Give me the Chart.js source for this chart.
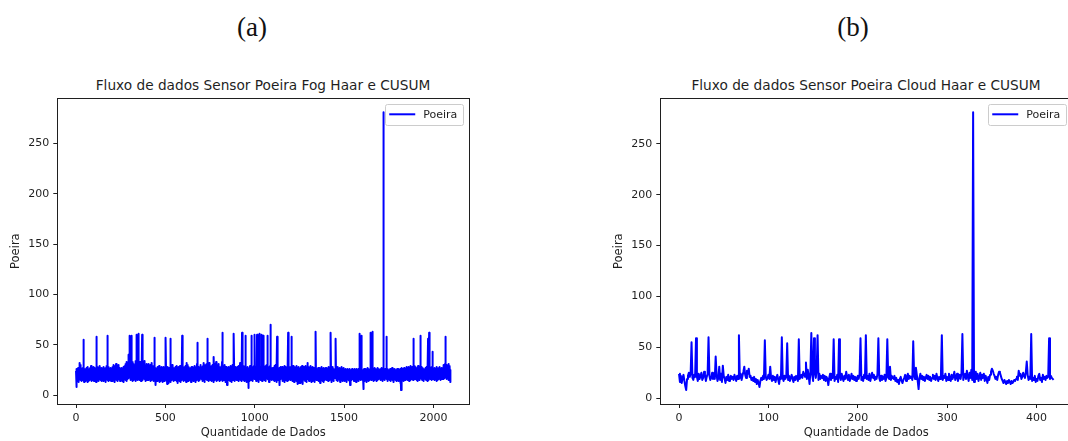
<!DOCTYPE html>
<html>
<head>
<meta charset="utf-8">
<title>Fluxo de dados Sensor Poeira</title>
<script src="https://cdn.jsdelivr.net/npm/chart.js@4.4.0/dist/chart.umd.min.js"></script>
<style>
  body {
    margin: 0;
    width: 1068px;
    height: 441px;
    overflow: hidden;
    background: #fff;
    position: relative;
    font-family: 'DejaVu Sans', sans-serif;
    color: #1f1f1f;
  }
  .painel { position: absolute; top: 0; width: 480px; height: 441px; }
  #painelA { left: 0; }
  #painelB { left: 603px; }
  .sub {
    position: absolute;
    top: 12px;
    width: 80px;
    text-align: center;
    font-family: 'Liberation Serif', 'DejaVu Serif', serif;
    font-size: 27px;
    line-height: 30px;
    color: #111;
  }
  #painelA .sub { left: 212px; }
  #painelB .sub { left: 210px; }
  .titulo {
    position: absolute;
    top: 77px;
    left: 57px;
    width: 412px;
    text-align: center;
    font-size: 13.7px;
    line-height: 16px;
    white-space: nowrap;
  }
  canvas { position: absolute; left: 0; top: 70px; }
</style>
</head>
<body>

<div class="painel" id="painelA">
  <div class="sub">(a)</div>
  <div class="titulo">Fluxo de dados Sensor Poeira Fog Haar e CUSUM</div>
  <canvas id="graficoFog" width="480" height="370"></canvas>
</div>

<div class="painel" id="painelB">
  <div class="sub">(b)</div>
  <div class="titulo">Fluxo de dados Sensor Poeira Cloud Haar e CUSUM</div>
  <canvas id="graficoCloud" width="480" height="370"></canvas>
</div>

<script>
// Leituras do sensor de poeira - Fog (2097 amostras)
const poeiraFog = [
  24,17,21,8,19,26,15,22,18,25, 14,23,27,16,20,24,13,26,19,22, 17,28,32,21,15,25,30,18,23,16, 26,20,14,24,19,27,15,22,18,25, 17,55,21,16,24,13,26,19,22,15,
  15,23,19,26,14,21,25,17,22,18, 27,16,20,24,13,23,19,28,15,22, 18,25,14,21,26,17,23,20,15,27, 19,22,16,24,29,18,21,14,25,20, 17,26,22,15,23,19,28,16,21,24,
  20,14,25,18,23,16,27,21,15,24, 19,22,13,26,18,24,58,20,16,25, 22,17,28,15,21,26,19,23,14,27, 18,24,20,16,29,22,15,25,19,21, 26,17,23,14,27,20,18,24,16,22,
  23,17,26,19,14,22,28,16,21,25, 18,24,15,20,27,13,23,19,26,17, 22,29,16,24,20,15,25,59,21,18, 26,14,23,19,28,16,22,25,17,21, 24,15,27,20,18,23,14,26,19,22,
  19,25,16,22,28,14,24,18,21,27, 15,23,30,17,20,26,13,24,19,29, 22,16,25,18,31,21,15,27,20,24, 17,28,14,23,19,26,22,16,30,18, 25,21,15,24,17,27,20,14,23,19,
  24,18,21,15,27,20,16,25,19,23, 14,26,22,17,28,15,24,20,13,25, 18,23,29,16,21,26,19,31,15,24, 22,17,27,20,33,14,25,19,30,16, 23,28,18,32,21,40,17,26,22,30,
  59,18,27,21,15,29,24,17,32,20, 59,16,26,22,30,14,25,19,33,21, 17,28,23,15,31,20,26,18,24,29, 16,22,34,19,27,14,25,30,18,23, 60,21,17,28,24,15,32,20,26,19,
  22,61,19,27,15,30,23,18,33,21, 16,26,29,20,14,25,31,17,24,22, 60,19,28,15,23,32,18,26,21,30, 17,24,20,34,16,27,22,19,29,14, 25,21,28,17,31,23,15,26,20,24,
  18,26,22,15,29,20,24,17,31,23, 16,27,21,19,25,14,30,22,18,26, 20,15,28,23,17,32,21,25,16,27, 19,24,14,29,22,18,26,20,23,57, 21,16,25,19,27,15,22,10,24,18,
  23,17,26,20,14,25,19,28,16,22, 27,15,21,24,18,29,13,23,20,26, 17,22,25,14,27,19,21,16,24,28, 15,20,26,18,23,13,27,21,17,25, 22,19,28,14,24,20,16,26,18,23,
  19,25,16,57,22,14,27,20,18,24, 11,26,21,15,28,19,23,12,25,17, 22,27,14,20,24,16,21,56,18,26, 13,23,19,28,15,22,25,17,30,20, 16,24,21,27,14,19,26,18,23,15,
  24,18,27,21,15,25,19,28,16,22, 26,14,23,20,29,17,24,12,21,27, 18,25,15,22,28,19,23,16,26,20, 14,24,29,18,21,25,13,27,19,23, 17,26,22,15,59,20,24,18,28,21,
  16,23,19,27,14,25,21,18,28,22, 15,26,20,24,17,29,13,23,32,19, 26,21,16,30,22,18,25,14,27,20, 23,17,28,19,24,15,22,26,18,21, 27,16,24,20,13,25,19,28,17,23,
  22,17,25,19,28,15,23,20,26,14, 21,27,18,24,16,29,20,23,13,26, 19,25,17,22,28,15,24,31,18,21, 52,20,27,16,23,19,25,14,28,22, 17,26,21,15,24,30,19,23,18,27,
  25,19,23,16,28,21,14,26,20,24, 17,29,22,15,27,18,32,23,19,25, 13,28,21,17,30,24,16,26,20,31, 18,23,27,15,56,22,19,29,17,24, 21,26,14,28,20,32,18,25,22,16,
  20,27,18,24,15,26,22,17,29,21, 14,25,19,28,16,23,30,20,26,13, 24,18,38,21,27,15,25,19,31,22, 17,28,23,16,33,20,26,14,24,29, 19,22,27,15,25,18,31,21,16,26,
  23,17,26,20,14,28,22,18,25,19, 27,15,24,21,29,16,23,33,18,62, 20,26,14,25,19,28,17,22,24,15, 27,21,16,30,19,23,26,13,24,20, 28,18,22,15,25,10,27,19,23,17,
  26,19,23,16,28,21,15,25,18,24, 20,27,14,22,29,17,24,19,26,13, 23,28,18,21,16,25,30,20,24,15, 22,27,19,17,61,23,14,26,20,25, 18,28,22,16,24,19,27,15,23,21,
  19,25,22,15,28,20,24,17,26,14, 23,29,18,21,27,16,25,19,32,22, 15,26,20,24,17,28,14,23,21,62, 18,27,24,16,25,20,29,15,22,26, 17,23,19,28,14,25,21,18,59,24,
  22,16,27,20,25,18,13,24,19,28, 15,23,21,26,17,12,7,22,25,18, 27,20,14,24,29,17,22,26,19,23, 15,59,21,27,18,24,16,25,20,28, 14,23,26,19,22,17,29,21,16,25,
  60,18,25,21,16,28,19,23,14,26, 22,17,27,60,20,24,15,29,18,23, 26,13,21,25,19,61,22,16,27,20, 24,15,28,18,23,21,17,26,60,19, 25,14,22,27,20,16,24,59,18,23,
  21,27,16,24,19,28,15,22,26,18, 23,14,29,20,25,17,22,30,19,24, 16,59,21,27,18,23,15,26,20,28, 13,24,22,17,25,19,29,21,16,26, 70,20,24,15,27,18,23,21,26,17,
  24,18,22,27,15,26,20,23,17,29, 14,25,21,19,28,16,24,22,30,18, 26,13,23,20,27,58,19,25,15,22, 28,17,24,21,16,26,19,23,14,27, 20,10,25,18,22,28,16,24,19,21,
  17,25,21,28,15,23,19,26,14,24, 20,27,18,22,16,29,21,25,13,23, 19,26,17,24,28,15,22,20,27,18, 25,14,23,21,29,16,24,62,19,22, 26,15,28,20,17,25,21,23,18,27,
  23,19,26,15,28,21,58,17,24,20, 27,14,22,25,18,29,16,23,20,26, 13,24,19,28,15,22,27,17,25,21, 18,26,14,23,29,20,16,24,22,27, 15,11,25,19,28,17,21,24,12,26,
  20,25,16,23,12,27,19,22,15,28, 21,17,24,26,14,29,18,23,20,25, 11,27,22,16,24,19,28,15,21,26, 18,23,14,29,20,25,17,22,27,13, 24,19,26,16,30,21,32,18,23,20,
  25,17,22,28,14,24,19,27,16,21, 26,18,23,15,29,20,24,13,27,19, 22,16,25,21,28,14,23,18,26,20, 24,15,27,19,22,13,25,21,17,28, 19,23,63,16,24,20,26,15,22,18,
  21,26,17,23,15,27,19,24,14,22, 25,18,20,27,16,23,12,26,19,24, 17,22,28,15,21,25,18,23,14,26, 20,24,16,22,27,19,13,25,21,18, 23,26,15,24,20,17,27,22,19,24,
  18,24,21,27,15,23,19,26,16,22, 25,14,28,20,23,17,26,21,15,24, 19,27,22,16,25,18,62,20,24,13, 27,21,17,23,26,15,22,19,28,16, 24,20,14,26,22,18,25,17,23,21,
  24,17,22,26,56,19,25,15,23,20, 27,16,21,24,18,28,14,22,25,19, 23,17,26,20,15,27,21,24,13,22, 18,25,19,23,16,28,20,24,17,21, 26,14,23,19,25,18,22,27,15,20,
  21,16,24,19,25,14,22,18,26,20, 15,23,17,25,21,13,24,19,22,16, 26,18,23,15,20,25,17,22,19,24, 14,21,26,18,10,23,20,16,25,19, 22,17,24,15,21,26,18,23,20,16,
  24,18,21,16,25,20,14,23,19,26, 17,22,15,24,21,18,25,13,23,20, 16,26,19,22,24,15,21,18,25,17, 23,20,14,26,19,61,22,16,24,18, 21,25,15,23,19,26,17,22,59,20,
  17,23,20,25,15,22,18,12,6,21, 24,16,26,19,22,14,25,20,17,23, 15,26,21,18,24,13,22,19,25,16, 23,20,27,15,21,18,24,14,26,19, 22,17,25,20,15,23,19,26,18,21,
  62,19,24,16,22,27,15,23,20,25, 63,18,21,26,14,24,19,22,17,25, 20,15,23,27,18,21,26,16,24,19, 22,14,25,20,17,23,27,18,21,15, 24,19,26,16,22,20,25,17,23,18,
  21,25,17,23,19,26,15,22,18,24, 20,27,16,23,21,14,25,19,22,26, 281,18,24,16,21,25,19,23,15,22, 26,17,20,24,18,23,58,21,16,25, 19,22,14,26,20,23,17,25,18,21,
  24,16,22,19,25,15,23,20,26,17, 21,24,14,22,18,25,20,16,23,27, 19,15,24,21,17,26,22,18,25,13, 23,20,16,24,19,26,21,15,22,18, 25,17,23,20,14,24,19,26,16,22,
  19,25,16,23,20,14,26,22,17,24, 21,15,25,19,23,18,26,12,22,5, 20,24,17,27,15,23,19,25,21,16, 26,18,22,14,24,20,27,17,23,19, 25,15,21,26,18,24,16,22,28,20,
  23,17,26,20,15,24,19,27,16,22, 25,18,21,28,14,23,20,26,17,24, 19,29,15,22,27,18,24,21,16,25, 20,28,17,23,19,26,15,22,56,21, 27,18,24,16,29,20,23,17,26,19,
  22,28,16,24,19,26,15,23,20,27, 17,25,21,14,29,18,24,22,16,26, 19,23,28,15,21,25,17,24,20,59, 18,26,22,16,28,19,24,15,23,21, 27,17,25,20,14,26,22,18,24,19,
  25,18,23,20,27,16,22,19,26,15, 24,21,28,17,23,19,25,14,22,27, 56,18,24,20,26,15,62,21,17,25, 23,19,27,16,22,24,18,26,20,15, 23,28,17,24,21,43,19,25,16,22,
  20,26,17,23,19,25,15,22,27,18, 24,21,16,26,19,23,14,25,20,28, 17,22,24,18,26,15,23,21,27,19, 16,25,22,18,24,20,28,17,23,26, 19,15,24,21,27,18,22,25,16,23,
  24,19,27,22,16,29,21,25,18,30, 23,17,28,20,26,31,19,24,22,58, 18,27,21,30,16,25,29,20,23,17, 28,22,26,19,31,15,24,27,21,18, 26,23,29,17,25,20,13
];

// Leituras do sensor de poeira - Cloud (420 amostras)
const poeiraCloud = [
  24,16,22,15,20,23,17,12,8,19, 22,25,21,24,55,20,18,23,21,59,
  21,17,24,19,22,25,18,20,26,23, 17,21,24,60,22,18,20,25,19,22,
  19,41,23,17,20,31,18,24,16,32, 22,19,15,21,18,23,17,20,22,19,
  21,18,23,20,17,22,19,62,20,24, 18,22,26,31,23,20,27,24,29,21,
  22,18,20,17,21,16,19,14,18,15, 11,17,20,18,22,19,57,21,18,20,
  23,19,31,20,17,22,18,21,16,20, 23,18,14,21,19,60,20,17,22,19,
  21,54,18,22,17,20,23,19,16,21, 18,22,20,17,58,19,21,23,20,26,
  24,21,35,19,28,22,14,26,64,23, 17,59,25,20,28,62,18,24,19,22,
  20,23,18,22,17,21,19,13,20,24, 18,22,20,58,17,21,19,23,16,58,
  21,18,24,20,17,22,19,26,21,18, 23,17,20,24,19,22,18,21,17,20,
  22,19,24,59,18,21,17,23,20,62, 19,22,18,24,17,21,25,20,23,18,
  21,19,24,59,20,17,22,18,21,19, 23,17,20,58,21,19,31,18,22,20,
  19,22,17,20,16,18,14,19,21,17, 15,18,20,23,17,21,24,19,22,20,
  21,18,56,22,19,30,23,17,9,20, 24,19,22,18,21,17,20,23,19,22,
  18,21,17,20,23,19,22,18,24,20, 17,21,19,23,62,18,22,20,24,17,
  21,18,24,20,17,23,19,22,26,18, 21,24,17,20,23,19,25,63,18,22,
  24,19,27,21,17,25,20,28,18,281, 16,22,26,19,24,17,21,25,18,23,
  20,24,17,22,19,15,21,18,23,26, 29,27,24,22,19,21,18,23,26,25,
  22,19,17,15,18,16,14,17,15,18, 16,14,17,15,16,18,17,19,21,18,
  27,22,24,19,21,25,22,20,26,36, 23,18,21,19,63,17,20,18,22,16,
  19,17,22,24,18,20,16,23,19,21, 18,22,20,21,59,19,22,20,19,18
];

const ticksY = [0, 50, 100, 150, 200, 250];
const ticksXFog = [0, 500, 1000, 1500, 2000];
const ticksXCloud = [0, 100, 200, 300, 400];

const corLinha = '#0000ff';
const corEixo = '#1f1f1f';
const fonte = "'DejaVu Sans', sans-serif";

// limites com 5% de folga, como o autoscale do matplotlib
function comFolga(lo, hi) {
  const d = (hi - lo) * 0.05;
  return [lo - d, hi + d];
}

// moldura completa dos eixos + legenda dentro da area do grafico
const moldura = {
  id: 'moldura',
  afterDatasetsDraw(chart) {
    const { ctx, chartArea: a } = chart;
    ctx.save();

    // legenda no canto superior direito
    ctx.font = '11px ' + fonte;
    const texto = chart.data.datasets[0].label;
    const larg = 38 + ctx.measureText(texto).width + 6;
    const alt = 21;
    const lx = a.right - 6 - larg;
    const ly = a.top + 6;
    ctx.fillStyle = 'rgba(255,255,255,0.8)';
    ctx.strokeStyle = '#cccccc';
    ctx.lineWidth = 1;
    ctx.beginPath();
    ctx.roundRect(Math.round(lx) + 0.5, Math.round(ly) + 0.5, Math.round(larg), alt, 2);
    ctx.fill();
    ctx.stroke();

    ctx.strokeStyle = corLinha;
    ctx.lineWidth = 2;
    ctx.beginPath();
    ctx.moveTo(lx + 4, ly + 10);
    ctx.lineTo(lx + 30, ly + 10);
    ctx.stroke();

    ctx.fillStyle = corEixo;
    ctx.textBaseline = 'middle';
    ctx.textAlign = 'left';
    ctx.fillText(texto, lx + 38, ly + 10.5);

    // bordas
    ctx.strokeStyle = corEixo;
    ctx.lineWidth = 1;
    ctx.strokeRect(Math.round(a.left) + 0.5, Math.round(a.top) + 0.5,
      Math.round(a.right - a.left), Math.round(a.bottom - a.top));
    ctx.restore();
  }
};

function eixo(ticks, titulo, extra) {
  return Object.assign({
    type: 'linear',
    afterBuildTicks: s => { s.ticks = ticks.map(v => ({ value: v })); },
    ticks: {
      callback: v => String(v),
      color: corEixo,
      padding: 4,
      font: { family: fonte, size: 11 },
      maxRotation: 0,
      autoSkip: false
    },
    grid: {
      display: true,
      drawOnChartArea: false,
      drawTicks: true,
      tickLength: 4,
      color: corEixo,
      tickColor: corEixo
    },
    border: { display: false },
    title: {
      display: true,
      text: titulo,
      color: corEixo,
      font: { family: fonte, size: 11.5 }
    }
  }, extra);
}

function criaGrafico(id, valores, ticksX) {
  const pontos = valores.map((v, i) => ({ x: i, y: v }));
  const [xMin, xMax] = comFolga(0, valores.length - 1);
  const [yMin, yMax] = comFolga(Math.min(...valores), Math.max(...valores));

  const eixoX = eixo(ticksX, 'Quantidade de Dados', { min: xMin, max: xMax });
  eixoX.afterFit = s => { s.height = 36; };
  eixoX.title.padding = { top: 0, bottom: 0 };

  const eixoY = eixo(ticksY, 'Poeira', { min: yMin, max: yMax });
  eixoY.afterFit = s => { s.width = 57.3; };
  eixoY.title.padding = { top: 9.5, bottom: 0 };

  return new Chart(document.getElementById(id), {
    type: 'line',
    data: {
      datasets: [{
        label: 'Poeira',
        data: pontos,
        borderColor: corLinha,
        backgroundColor: corLinha,
        borderWidth: 2,
        borderJoinStyle: 'round',
        pointRadius: 0,
        tension: 0,
        fill: false
      }]
    },
    options: {
      responsive: false,
      animation: false,
      events: [],
      layout: { padding: { left: 0, right: 10.7, top: 28.3, bottom: 0 } },
      plugins: {
        legend: { display: false },
        tooltip: { enabled: false }
      },
      scales: { x: eixoX, y: eixoY }
    },
    plugins: [moldura]
  });
}

criaGrafico('graficoFog', poeiraFog, ticksXFog);
criaGrafico('graficoCloud', poeiraCloud, ticksXCloud);
</script>
</body>
</html>
